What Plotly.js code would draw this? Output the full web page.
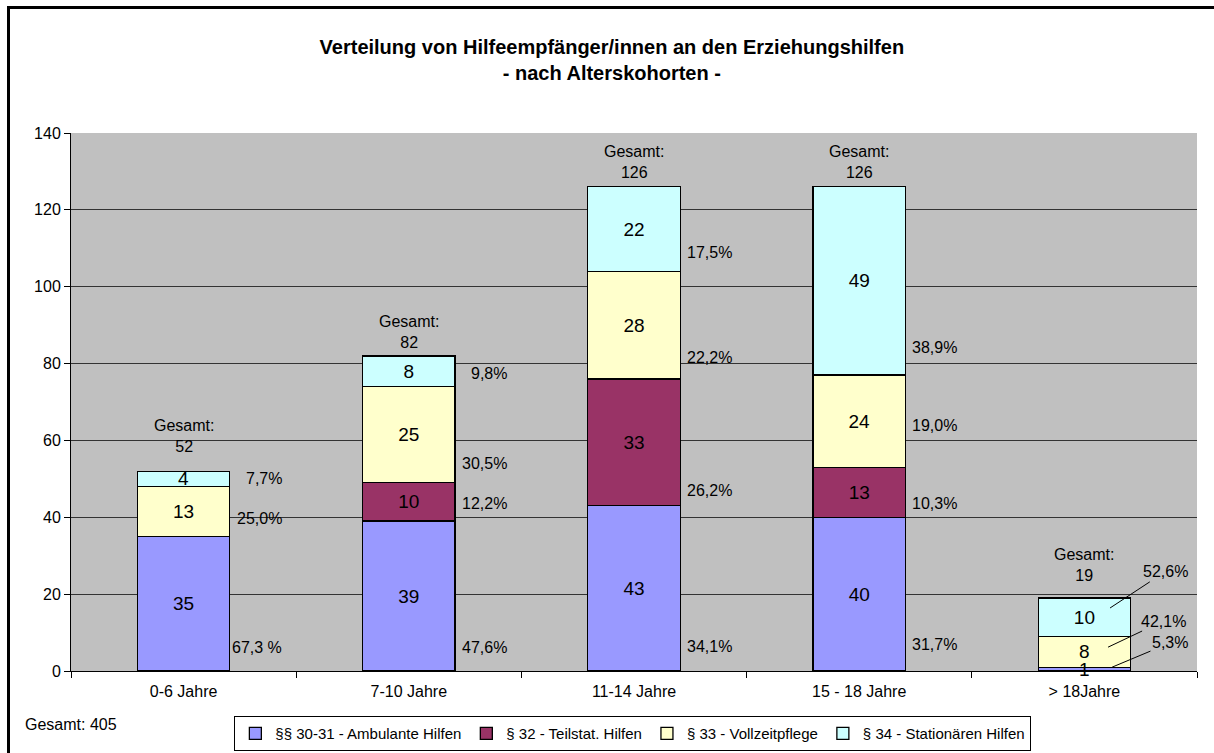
<!DOCTYPE html>
<html>
<head>
<meta charset="utf-8">
<script src="https://cdn.plot.ly/plotly-3.0.1.min.js"></script>
<style>
  html, body { margin: 0; padding: 0; background: #fff; overflow: hidden; }
  #wrap { position: relative; width: 1214px; height: 753px; overflow: hidden; }
  #chart { position: absolute; left: 0; top: 0; width: 1214px; height: 753px; }
  #frame { position: absolute; left: 7px; top: 6px; width: 1240px; height: 780px;
           border-left: 3px solid #000; border-top: 3px solid #000; pointer-events: none; }
</style>
</head>
<body>
<div id="wrap">
  <div id="chart"></div>
  <div id="frame"></div>
</div>
<script>
// ---- data ----
const categories = ['0-6 Jahre', '7-10 Jahre', '11-14 Jahre', '15 - 18 Jahre', '> 18Jahre'];
const ambulant   = [35, 39, 43, 40, 1];
const teilstat   = [null, 10, 33, 13, null];
const vollzeit   = [13, 25, 28, 24, 8];
const stationaer = [4, 8, 22, 49, 10];
const totals     = [52, 82, 126, 126, 19];
const grandTotal = 405;

const pctAmbulant   = ['67,3 %', '47,6%', '34,1%', '31,7%', '5,3%'];
const pctTeilstat   = [null, '12,2%', '26,2%', '10,3%', null];
const pctVollzeit   = ['25,0%', '30,5%', '22,2%', '19,0%', '42,1%'];
const pctStationaer = ['7,7%', '9,8%', '17,5%', '38,9%', '52,6%'];

const seriesNames = ['§§ 30-31 - Ambulante Hilfen', '§ 32 - Teilstat. Hilfen',
                     '§ 33 - Vollzeitpflege', '§ 34 - Stationären Hilfen'];

// ---- label placement (layout only) ----
const pctPlaceY = {
  amb:  [6.0, 6.0, 6.5, 6.8],
  teil: [null, 43.5, 47.1, 43.5],
  voll: [39.8, 54.1, 81.7, 63.8],
  stat: [50.0, 77.3, 108.8, 84.3]
};
const gesamtPlaceY = [61.2, 88.2, 132.4, 132.4, 27.6];
// last category: leader-line labels [textX, textY, pointX, pointY] offsets
const lastCatLeaders = {
  stat: [0.358, 25.8, 0.114, 16.4],
  voll: [0.350, 13.0, 0.105, 6.2],
  amb:  [0.380, 7.3, 0.123, 1.0]
};

// ---- styles ----
const FONT = 'Liberation Sans, Arial, sans-serif';
const colors = ['#9999FF', '#993366', '#FFFFCC', '#CCFFFF'];
const seriesData = [ambulant, teilstat, vollzeit, stationaer];
const TINY = 2; // segments smaller than this get their label drawn on top

const traces = seriesData.map((vals, i) => ({
  type: 'bar',
  name: seriesNames[i],
  x: categories,
  y: vals,
  width: 0.41,
  marker: { color: colors[i], line: { color: '#000', width: 1.3 } },
  text: vals.map(v => (v == null || v < TINY) ? '' : String(v)),
  textposition: 'inside',
  insidetextanchor: 'middle',
  textangle: 0,
  constraintext: 'none',
  textfont: { family: FONT, size: 19, color: '#000' },
  hoverinfo: 'x+y+name'
}));

const annotations = [];

// labels of tiny segments (drawn above neighbouring bars)
seriesData.forEach((vals, i) => {
  vals.forEach((v, c) => {
    if (v == null || v >= TINY) return;
    let base = 0;
    for (let k = 0; k < i; k++) base += (seriesData[k][c] || 0);
    annotations.push({
      x: categories[c], y: base + v / 2, xref: 'x', yref: 'y',
      text: String(v), showarrow: false, xanchor: 'center', yanchor: 'middle',
      font: { family: FONT, size: 19, color: '#000' }
    });
  });
});

const pctSets = [['amb', pctAmbulant], ['teil', pctTeilstat], ['voll', pctVollzeit], ['stat', pctStationaer]];
pctSets.forEach(([key, arr]) => {
  for (let c = 0; c < 4; c++) {
    if (arr[c] == null) continue;
    annotations.push({
      x: c + 0.444, y: pctPlaceY[key][c], xref: 'x', yref: 'y',
      text: arr[c], showarrow: false, xanchor: 'right', yanchor: 'middle',
      font: { family: FONT, size: 16, color: '#000' }
    });
  }
  const last = 4;
  if (arr[last] != null) {
    const L = lastCatLeaders[key];
    annotations.push({
      x: last + L[2], y: L[3], xref: 'x', yref: 'y',
      ax: last + L[0], ay: L[1], axref: 'x', ayref: 'y',
      text: arr[last], showarrow: true, arrowhead: 0, arrowwidth: 1, arrowcolor: '#000',
      standoff: 0, startstandoff: 0,
      font: { family: FONT, size: 16, color: '#000' }
    });
  }
});

totals.forEach((t, c) => {
  annotations.push({
    x: c, y: gesamtPlaceY[c], xref: 'x', yref: 'y',
    text: 'Gesamt:<br>' + t, showarrow: false, xanchor: 'center', yanchor: 'middle',
    font: { family: FONT, size: 16, color: '#000' }
  });
});

annotations.push({
  x: -0.043, y: -0.100, xref: 'paper', yref: 'paper',
  text: 'Gesamt: ' + grandTotal, showarrow: false, xanchor: 'left', yanchor: 'middle',
  font: { family: FONT, size: 16, color: '#000' }
});

const layout = {
  width: 1214, height: 753,
  paper_bgcolor: '#ffffff',
  plot_bgcolor: '#C0C0C0',
  margin: { l: 71, r: 17, t: 133, b: 82, autoexpand: false },
  barmode: 'stack',
  showlegend: true,
  title: {
    text: 'Verteilung von Hilfeempfänger/innen an den Erziehungshilfen<br>- nach Alterskohorten -',
    font: { family: FONT, size: 20, color: '#000', weight: 'bold' },
    x: 0.504, xref: 'container', xanchor: 'center',
    y: 1 - 54 / 753, yref: 'container', yanchor: 'top'
  },
  font: { family: FONT, size: 16, color: '#000' },
  xaxis: {
    type: 'category',
    showgrid: false,
    showline: true, linecolor: '#000', linewidth: 1,
    ticks: 'outside', tickson: 'boundaries', ticklen: 6, tickcolor: '#000',
    ticklabelstandoff: 6,
    tickfont: { family: FONT, size: 16, color: '#000' },
    fixedrange: true
  },
  yaxis: {
    range: [0, 140], dtick: 20, tick0: 0,
    showgrid: true, gridcolor: '#333333', gridwidth: 1,
    showline: true, linecolor: '#000', linewidth: 1,
    ticks: 'outside', ticklen: 6, tickcolor: '#000',
    tickfont: { family: FONT, size: 16, color: '#000' },
    zeroline: false,
    fixedrange: true
  },
  legend: {
    orientation: 'h',
    x: 0.499, xanchor: 'center', xref: 'paper',
    y: -0.084, yanchor: 'top', yref: 'paper',
    bgcolor: '#ffffff', bordercolor: '#000', borderwidth: 1,
    font: { family: FONT, size: 15, color: '#000' },
    traceorder: 'normal',
    itemwidth: 30,
    tracegroupgap: 0
  },
  annotations: annotations
};

Plotly.newPlot('chart', traces, layout, { displayModeBar: false, staticPlot: true });
</script>
</body>
</html>
